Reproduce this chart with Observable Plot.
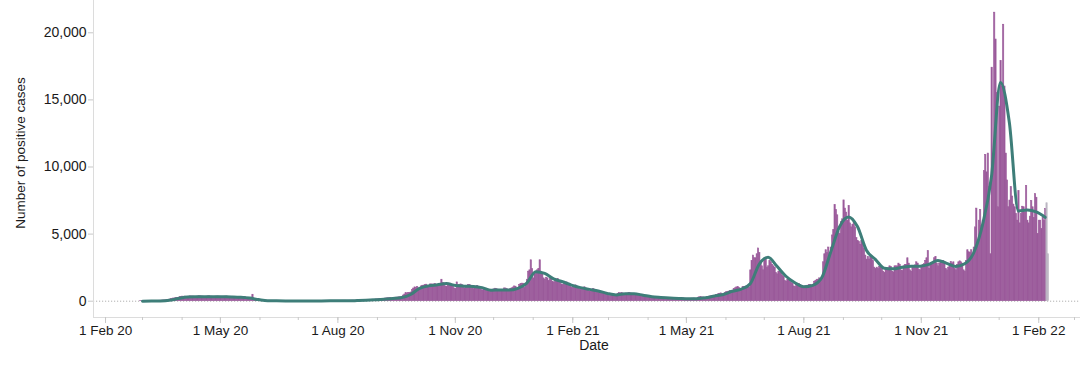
<!DOCTYPE html>
<html><head><meta charset="utf-8">
<script src="https://cdn.jsdelivr.net/npm/d3@7"></script>
<script src="https://cdn.jsdelivr.net/npm/@observablehq/plot@0.6"></script>
<style>
html,body{margin:0;padding:0;background:#fff;}
</style></head><body><div id="chart"></div>
<script>
// Daily positive cases, one row per week (Thu..Wed), starting Thu 27 Feb 2020
const casesStart = "2020-02-27";
const casesFirstYear = [
  0,1,2,3,5,10,14,
  8,10,9,11,14,16,18,
  25,30,32,38,45,52,58,
  70,90,100,120,150,180,200,
  210,240,230,250,300,320,340,
  330,340,300,290,340,360,350,
  350,340,310,300,350,370,360,
  350,340,300,290,340,360,365,
  345,335,300,290,340,350,350,
  340,330,290,285,335,345,350,
  330,310,270,260,310,330,325,
  300,290,250,240,290,310,315,
  220,180,130,100,90,480,80,
  100,90,70,60,65,70,60,
  50,40,30,25,30,30,30,
  28,25,20,20,25,28,28,
  24,22,18,17,22,25,26,
  22,20,16,15,20,23,24,
  22,20,17,15,20,24,22,
  22,21,18,16,22,24,24,
  24,23,19,18,24,27,26,
  27,26,22,20,27,30,30,
  30,28,24,22,29,31,32,
  33,32,27,25,34,36,37,
  40,42,36,38,48,55,56,
  60,65,58,62,80,95,105,
  105,112,100,105,130,140,148,
  160,170,150,155,195,210,220,
  220,225,195,200,245,260,265,
  270,290,280,300,420,500,600,
  560,620,600,650,850,940,1030,
  980,1050,950,960,1100,1150,1160,
  1200,1230,1080,1050,1250,1250,1240,
  1250,1280,1100,1080,1300,1250,1600,
  1350,1320,1100,1080,1250,1200,1310,
  1200,1150,950,900,1400,1100,1210,
  1250,1200,980,950,1150,1100,1210,
  1200,1150,940,900,1100,1060,1140,
  1080,1020,850,800,900,860,930,
  880,850,720,700,850,880,930,
  900,860,700,680,780,800,950,
  950,900,760,740,900,960,1020,
  1100,1080,950,920,1200,1280,1310,
  1300,1000,1200,1600,2200,2300,3050,
  2400,1700,2000,2100,2300,2400,3050,
  2200,2100,1700,1600,1750,1700,1500,
  1700,1650,1450,1400,1600,1550,1640,
  1500,1450,1250,1200,1350,1300,1400,
  1300,1200,1050,1000,1100,1080,1180
];
// continues Thu 4 Feb 2021
const casesSecondYear = [
  1100,1000,880,850,900,880,1040,
  950,880,760,730,800,780,910,
  800,760,640,600,650,620,690,
  620,560,450,400,380,370,440,
  480,500,440,420,540,620,570,
  600,580,500,480,560,580,620,
  580,560,470,450,480,470,490,
  480,460,380,360,400,380,410,
  380,330,270,250,280,270,320,
  290,270,220,210,250,250,260,
  240,230,190,180,210,220,235,
  220,210,170,160,190,200,215,
  200,190,155,145,165,180,190,
  190,200,180,190,260,290,300,
  270,280,240,250,310,330,350,
  360,380,350,380,460,480,530,
  560,580,500,520,620,670,680,
  720,760,720,780,920,960,1020,
  1050,1000,880,900,1050,1060,1060,
  1100,1150,1000,2300,3000,3400,3200,
  3200,3500,3930,3600,2800,2600,2300,
  3200,3100,2500,2600,3000,2900,2700,
  2600,2500,2100,2000,2200,2300,2260,
  1900,1800,1500,1450,1600,1550,1610,
  1350,1300,1100,1050,1200,1180,1290,
  1200,1150,950,920,1100,1150,1160,
  1200,1200,1050,1100,1450,1500,1600,
  1600,1700,1500,1800,2900,3500,3800,
  3600,4000,3500,4000,4900,5300,7160,
  6800,6400,5200,5000,5900,6100,7510,
  6900,6600,6000,7090,5800,5500,5700,
  5900,5500,4700,4500,4400,4200,4500,
  4300,3900,3400,3100,3300,3100,3400,
  3200,3000,2500,2400,2500,2400,2550,
  2600,2500,2200,2100,2400,2350,2440,
  2600,2550,2200,2150,2600,2600,2590,
  2800,2700,2300,2250,2600,2700,2710,
  3200,2800,2300,2200,2500,2600,2670,
  2900,2800,2350,2300,2600,2700,2760,
  3000,3200,3730,2400,2700,2800,2820,
  3200,3300,2800,2600,2800,2950,3000,
  3000,2900,2400,2300,2500,2600,2920,
  2800,2900,2400,2300,2700,2900,2970,
  2900,2800,2300,2200,3000,3800,3650,
  3600,3800,3300,4000,5500,6900,4400,
  6000,6800,5600,6000,9700,10900,9600,
  11000,8500,3500,17400,11000,21500,19500,
  15500,7000,14500,17900,16000,20600,16000,
  11000,9000,7000,7500,8500,7800,7200,
  7000,6500,6000,8200,5800,6500,7040,
  7000,6600,8580,6000,5800,6300,7460,
  7000,6200,7980,7710,5000,6000,6000
];
// Thu 3 Feb 2022 .. Sun 6 Feb 2022
const casesLatest = [5370,6200,6000,6860];
// incomplete days (grey)
const casesProvisional = [7300,3500];

// 7-day average, one value per Sunday from 1 Mar 2020
const avgStart = "2020-03-01";
const avgWeekly = [
  3,8,20,70,200,320,338,337,331,325,
  318,295,230,120,35,25,22,20,20,21,
  23,26,28,30,45,65,100,150,200,270,
  500,950,1140,1220,1310,1170,1120,1100,1010,820,
  840,830,960,1350,2200,2070,1670,1450,1200,1010,
  880,760,580,470,550,555,445,330,275,230,
  200,178,190,250,380,500,740,900,1300,2750,
  3270,2600,1860,1380,1070,1180,1740,3650,5560,6280,
  5560,3800,3120,2460,2410,2530,2610,2610,2740,3040,
  2820,2590,2790,3600,5700,9300,16300,13300,6720,6790,
  6650,6250
];

const xTickDates = ["2020-02-01","2020-05-01","2020-08-01","2020-11-01","2021-02-01","2021-05-01","2021-08-01","2021-11-01","2022-02-01"];
const yTicks = [0, 5000, 10000, 15000, 20000];

const parse = d3.utcParse("%Y-%m-%d");
const start = parse(casesStart);
const toRows = (arr, offset) => arr.map((v, i) => {
  const date = d3.utcDay.offset(start, offset + i);
  return {date, next: d3.utcDay.offset(date, 1), value: v};
});
const completeVals = [...casesFirstYear, ...casesSecondYear, ...casesLatest];
const complete = toRows(completeVals, 0);
const provisional = toRows(casesProvisional, completeVals.length);
const avg = avgWeekly.map((v, i) => ({date: d3.utcDay.offset(parse(avgStart), 7 * i), value: v}));

const xDomain = [new Date(Date.UTC(2020, 0, 22, 14)), new Date(Date.UTC(2022, 2, 5, 17))];
const yDomain = [-1215, 22407];
const majorTicks = xTickDates.map(parse);
const minorTicks = d3.utcMonths(xDomain[0], xDomain[1]);

const font = '"Liberation Sans", Arial, Helvetica, sans-serif';
const ink = "#1a1a1a";
const purple = "#9b5b9b";
const grey = "#bcb7c3";
const chart = Plot.plot({
  width: 1080, height: 369,
  marginLeft: 93, marginRight: 0, marginTop: 0, marginBottom: 52,
  style: {fontFamily: font, fontSize: "14px", color: ink, background: "#fff", overflow: "visible"},
  x: {type: "utc", domain: xDomain},
  y: {domain: yDomain},
  marks: [
    Plot.ruleY([0], {stroke: "#b0b0b0", strokeDasharray: "1.2,1.8"}),
    Plot.rectY(complete, {x1: "date", x2: "next", y: "value", fill: purple, stroke: purple, strokeWidth: 0.6}),
    Plot.rectY(provisional, {x1: "date", x2: "next", y: "value", fill: grey, stroke: grey, strokeWidth: 0.6}),
    Plot.lineY(avg, {x: "date", y: "value", stroke: "#3e7e79", strokeWidth: 3, curve: "monotone-x"}),
    Plot.ruleX([xDomain[0]], {stroke: "#dcdcdc"}),
    Plot.ruleY([yDomain[0]], {stroke: "#dcdcdc"}),
    Plot.axisY(yTicks, {tickSize: 5, tickPadding: 2, tickFormat: d3.format(","), stroke: "#c8c8c8", fill: ink, fontSize: 14, label: null}),
    Plot.axisX(minorTicks, {tickSize: 3, tickFormat: () => "", stroke: "#c8c8c8", label: null}),
    Plot.axisX(majorTicks, {tickSize: 6, tickPadding: 2, tickFormat: d3.utcFormat("%-d %b %y"), stroke: "#c8c8c8", fill: ink, fontSize: 13.5, label: null}),
    Plot.text(["Date"], {text: d => d, frameAnchor: "bottom", dx: 7, dy: 32, fontSize: 14, fill: ink}),
    Plot.text(["Number of positive cases"], {text: d => d, frameAnchor: "left", textAnchor: "middle", rotate: -90, dx: -73, dy: -6, fontSize: 13.5, fill: ink})
  ]
});
document.getElementById("chart").appendChild(chart);
</script>
</body></html>
